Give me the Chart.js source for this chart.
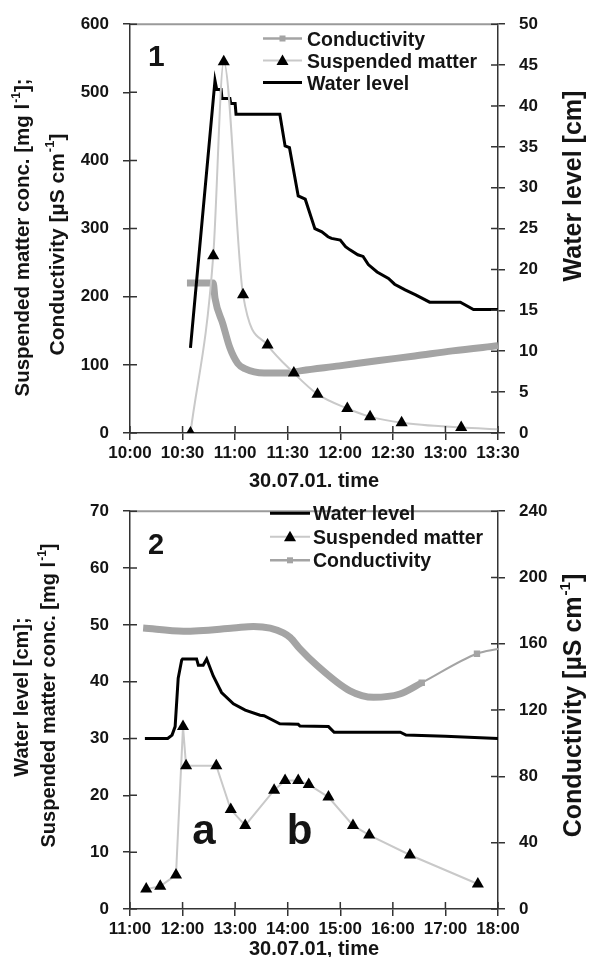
<!DOCTYPE html>
<html lang="en">
<head>
<meta charset="UTF-8">
<title>Water level, suspended matter and conductivity, 30.07.01</title>
<script src="https://cdn.jsdelivr.net/npm/chart.js"></script>
<style>
  body { margin: 0; background: #fff; }
  canvas { display: block; }
</style>
</head>
<body>
<canvas id="chart1" width="592" height="487"></canvas>
<canvas id="chart2" width="592" height="470"></canvas>
<script>
// ---- panel 1: 30.07.01, 10:00 - 13:30 ----
const p1LevelTimes = ['10:34.5','10:48.5','10:49.5','10:52','10:52.5','10:57','10:57.5','11:00','11:00.5','11:25.5',
  '11:28.5','11:31','11:36','11:40','11:45.5','11:49.5','11:53','11:55','12:00','12:03','12:05.5','12:10','12:13',
  '12:16','12:21','12:27.5','12:31','12:37','12:43','12:51','13:08.5','13:16','13:30'];
const p1LevelValues = [10.4,43.1,42.0,42.0,40.9,40.9,40.3,40.3,39.0,39.0,
  35.1,34.9,29.0,28.6,25.0,24.6,24.0,23.8,23.6,22.8,22.4,21.8,21.6,
  20.6,19.7,18.9,18.2,17.5,16.9,16.0,16.0,15.1,15.1];

const p1SuspTimes = ['10:34.5','10:47.5','10:53.5','11:04.5','11:18.5','11:33.5','11:47','12:04','12:17','12:35','13:09','13:30'];
const p1SuspValues = [0,260,545,203,129,88,57,36,24,15,8,5.5];

const p1CondTimes = ['10:32.5','10:47.5','10:48.5','10:53','10:57','11:01.5','11:05.5','11:16.5','11:29.5','11:38',
  '11:59.5','12:21','12:42.5','13:04','13:30'];
const p1CondValues = [220,220,198,160,125,102,94.5,88,88,91.5,98.5,106,113,120.5,128];

const p1LeftTicks = [0,100,200,300,400,500,600];
const p1RightTicks = [0,5,10,15,20,25,30,35,40,45,50];
const p1TimeTicks = ['10:00','10:30','11:00','11:30','12:00','12:30','13:00','13:30'];

// ---- panel 2: 30.07.01, 11:00 - 18:00 ----
const p2LevelTimes = ['11:17','11:43','11:48','11:51.5','11:55','11:59','12:00','12:16','12:18','12:23.5','12:27.5',
  '12:35','12:44.5','12:58','13:11.5','13:28.5','13:33','13:51','14:12','14:14','14:46.5','14:53','16:08.5','16:15',
  '17:00','18:00'];
const p2LevelValues = [30,30,30.6,32.1,40.6,43.8,44.0,44.0,42.9,42.9,44.0,
  41.0,38.1,36.1,35.0,34.1,34.0,32.6,32.5,32.2,32.1,31.1,31.1,30.6,
  30.4,30.0];

const p2SuspTimes = ['11:18.5','11:34.5','11:52.5','12:00.5','12:04','12:38.5','12:55','13:11.5','13:44.5','13:57',
  '14:12','14:24','14:46.5','15:14.5','15:33','16:19.5','17:37'];
const p2SuspValues = [3.5,4.0,6.0,32.1,25.2,25.2,17.5,14.7,20.9,22.6,22.6,21.9,19.7,14.7,13.0,9.5,4.4];

const p2CondTimes = ['11:15','12:01','12:58','13:21','13:40','13:55','14:03','14:14','14:33','15:11','15:38','16:08',
  '16:33','17:36','18:00'];
const p2CondValues = [169.5,167.6,169.5,170.5,169.5,166.6,163.7,156.9,147.1,131.6,127.7,129.7,136.5,154,156.9];

const p2LeftTicks = [0,10,20,30,40,50,60,70];
const p2RightTicks = [0,40,80,120,160,200,240];
const p2TimeTicks = ['11:00','12:00','13:00','14:00','15:00','16:00','17:00','18:00'];

const FONT = "'Liberation Sans', Arial, sans-serif";
const INK = '#141414';
const COND_GREY = '#a4a4a4';
const SUSP_GREY = '#c9c9c9';

function toMin(t) {
  const [h, m] = t.split(':');
  return parseInt(h, 10) * 60 + parseFloat(m);
}
function fmtTime(v) {
  const h = Math.floor(v / 60), m = Math.round(v % 60);
  return String(h).padStart(2, '0') + ':' + String(m).padStart(2, '0');
}
function pts(times, values) {
  return times.map((t, i) => ({ x: toMin(t), y: values[i] }));
}

// text with "-1" superscripts, centred on (x, y), optionally rotated
function drawRich(ctx, parts, x, y, size, rot) {
  const big = `bold ${size}px ${FONT}`;
  const small = `bold ${Math.round(size * 0.6)}px ${FONT}`;
  ctx.save();
  ctx.translate(x, y);
  if (rot) ctx.rotate(rot);
  let w = 0;
  parts.forEach(p => {
    ctx.font = typeof p === 'string' ? big : small;
    w += ctx.measureText(typeof p === 'string' ? p : p.sup).width;
  });
  let cx = -w / 2;
  ctx.fillStyle = INK;
  ctx.textAlign = 'left';
  ctx.textBaseline = 'alphabetic';
  const base = size * 0.36;
  parts.forEach(p => {
    if (typeof p === 'string') {
      ctx.font = big;
      ctx.fillText(p, cx, base);
      cx += ctx.measureText(p).width;
    } else {
      ctx.font = small;
      ctx.fillText(p.sup, cx + 1, base - size * 0.45);
      cx += ctx.measureText(p.sup).width + 1;
    }
  });
  ctx.restore();
}

// inner tick marks, top frame line, axis titles, legend and panel letters
const decor = {
  id: 'decor',
  afterDraw(chart, args, o) {
    const { ctx, chartArea: a, scales } = chart;
    ctx.save();
    ctx.strokeStyle = '#9a9a9a';
    ctx.lineWidth = 2;
    ctx.beginPath(); ctx.moveTo(a.left, a.top); ctx.lineTo(a.right, a.top); ctx.stroke();

    ctx.strokeStyle = '#333';
    ctx.lineWidth = 1.5;
    ctx.beginPath();
    scales.x.ticks.forEach(t => { const p = scales.x.getPixelForValue(t.value); ctx.moveTo(p, a.bottom); ctx.lineTo(p, a.bottom - 7); });
    scales.y.ticks.forEach(t => { const p = scales.y.getPixelForValue(t.value); ctx.moveTo(a.left, p); ctx.lineTo(a.left + 7, p); });
    scales.y1.ticks.forEach(t => { const p = scales.y1.getPixelForValue(t.value); ctx.moveTo(a.right, p); ctx.lineTo(a.right - 7, p); });
    ctx.stroke();

    o.titles.forEach(t => drawRich(ctx, t.parts, t.x, t.y, t.size, t.rot ? -Math.PI / 2 : 0));

    // legend
    const L = o.legend;
    L.items.forEach((it, i) => {
      const y = L.y + i * L.gap;
      ctx.strokeStyle = it.color;
      ctx.lineWidth = it.width;
      ctx.beginPath(); ctx.moveTo(L.x0, y); ctx.lineTo(L.x1, y); ctx.stroke();
      const mx = (L.x0 + L.x1) / 2;
      if (it.marker === 'rect') {
        ctx.fillStyle = it.color;
        ctx.fillRect(mx - 3, y - 3, 6, 6);
      } else if (it.marker === 'triangle') {
        ctx.fillStyle = '#000';
        ctx.beginPath(); ctx.moveTo(mx, y - 6); ctx.lineTo(mx + 6, y + 4.5); ctx.lineTo(mx - 6, y + 4.5); ctx.closePath(); ctx.fill();
      }
      ctx.fillStyle = INK;
      ctx.font = `bold 19.5px ${FONT}`;
      ctx.textAlign = 'left';
      ctx.textBaseline = 'alphabetic';
      ctx.fillText(it.text, L.xt, y + 7);
    });

    o.letters.forEach(l => {
      ctx.font = `bold ${l.size}px ${FONT}`;
      ctx.fillStyle = INK;
      ctx.textAlign = 'left';
      ctx.textBaseline = 'alphabetic';
      const x = l.t ? scales.x.getPixelForValue(toMin(l.t)) : a.left + l.dx;
      const y = l.v !== undefined ? scales.y.getPixelForValue(l.v) : a.top + l.dy;
      ctx.fillText(l.text, x, y);
    });
    ctx.restore();
  }
};

function axisOpts(pos, min, max, ticks, fit, extra) {
  return Object.assign({
    type: 'linear', position: pos, min: min, max: max,
    afterBuildTicks: s => { s.ticks = ticks.map(v => ({ value: v })); },
    afterFit: fit,
    grid: { drawOnChartArea: false, drawTicks: true, tickLength: 7, color: '#333', lineWidth: 1.5 },
    border: { display: true, color: '#333', width: 1.5 },
    ticks: { color: INK, font: { family: FONT, size: 17, weight: 'bold' }, padding: 14 }
  }, extra || {});
}

function makeChart(id, cfg) {
  return new Chart(document.getElementById(id), {
    type: 'line',
    data: { datasets: cfg.datasets },
    options: {
      responsive: false,
      animation: false,
      devicePixelRatio: 1,
      layout: { padding: { top: cfg.top, left: 0, right: 0, bottom: 0 } },
      scales: {
        x: axisOpts('bottom', toMin(cfg.timeTicks[0]), toMin(cfg.timeTicks[cfg.timeTicks.length - 1]),
          cfg.timeTicks.map(toMin), s => { s.height = cfg.xHeight; },
          { ticks: { color: INK, font: { family: FONT, size: 17, weight: 'bold' }, padding: 3, maxRotation: 0,
                     autoSkip: false, callback: v => fmtTime(v) } }),
        y: axisOpts('left', cfg.left[0], cfg.left[cfg.left.length - 1], cfg.left, s => { s.width = 130; }),
        y1: axisOpts('right', cfg.right[0], cfg.right[cfg.right.length - 1], cfg.right, s => { s.width = 94; })
      },
      plugins: {
        legend: { display: false },
        tooltip: { enabled: false },
        decor: cfg.decor
      }
    },
    plugins: [decor]
  });
}

const triangle = {
  pointStyle: 'triangle', pointRadius: 7, pointBackgroundColor: '#000', pointBorderColor: '#000', pointBorderWidth: 0
};

makeChart('chart1', {
  top: 20,
  xHeight: 54,
  timeTicks: p1TimeTicks,
  left: p1LeftTicks,
  right: p1RightTicks,
  datasets: [
    Object.assign({ label: 'Suspended matter', data: pts(p1SuspTimes, p1SuspValues), yAxisID: 'y',
      borderColor: SUSP_GREY, borderWidth: 2, cubicInterpolationMode: 'monotone', order: 1 }, triangle,
      { pointRadius: p1SuspTimes.map((t, i) => i === p1SuspTimes.length - 1 ? 0 : 7) }),
    { label: 'Water level', data: pts(p1LevelTimes, p1LevelValues), yAxisID: 'y1',
      borderColor: '#000', borderWidth: 3, pointRadius: 0, borderJoinStyle: 'miter', order: 2 },
    { label: 'Conductivity', data: pts(p1CondTimes, p1CondValues), yAxisID: 'y',
      borderColor: COND_GREY, borderWidth: 7, pointRadius: 0, cubicInterpolationMode: 'monotone',
      borderJoinStyle: 'round', order: 3 }
  ],
  decor: {
    titles: [
      { parts: ['30.07.01, time'], x: 314, y: 480, size: 20 },
      { parts: ['Suspended matter conc. [mg l', { sup: '-1' }, '];'], x: 22, y: 238, size: 20.5, rot: true },
      { parts: ['Conductivity [µS cm', { sup: '-1' }, ']'], x: 56, y: 245, size: 21, rot: true },
      { parts: ['Water level [cm]'], x: 572, y: 186, size: 25, rot: true }
    ],
    legend: { x0: 263, x1: 302, xt: 307, y: 38.5, gap: 22, items: [
      { text: 'Conductivity', color: COND_GREY, width: 2.5, marker: 'rect' },
      { text: 'Suspended matter', color: SUSP_GREY, width: 2, marker: 'triangle' },
      { text: 'Water level', color: '#000', width: 3 }
    ] },
    letters: [ { text: '1', dx: 18, dy: 42, size: 30 } ]
  }
});

const p2ThickEnd = p2CondTimes.indexOf('16:33');
makeChart('chart2', {
  top: 10.5,
  xHeight: 48,
  timeTicks: p2TimeTicks,
  left: p2LeftTicks,
  right: p2RightTicks,
  datasets: [
    Object.assign({ label: 'Suspended matter', data: pts(p2SuspTimes, p2SuspValues), yAxisID: 'y',
      borderColor: SUSP_GREY, borderWidth: 2, tension: 0, order: 1 }, triangle),
    { label: 'Water level', data: pts(p2LevelTimes, p2LevelValues), yAxisID: 'y',
      borderColor: '#000', borderWidth: 3, pointRadius: 0, order: 2 },
    { label: 'Conductivity', data: pts(p2CondTimes, p2CondValues), yAxisID: 'y1',
      borderColor: COND_GREY, borderWidth: 7, cubicInterpolationMode: 'monotone', borderJoinStyle: 'round',
      segment: { borderWidth: c => c.p0DataIndex < p2ThickEnd ? 7 : 2 },
      pointStyle: 'rect', pointBackgroundColor: COND_GREY, pointBorderWidth: 0,
      pointRadius: p2CondTimes.map((t, i) => (i === p2ThickEnd || i === p2ThickEnd + 1) ? 4.5 : 0), order: 3 }
  ],
  decor: {
    titles: [
      { parts: ['30.07.01, time'], x: 314, y: 461, size: 20 },
      { parts: ['Water level [cm];'], x: 21, y: 210, size: 20, rot: true },
      { parts: ['Suspended matter conc. [mg l', { sup: '-1' }, ']'], x: 48, y: 209, size: 20, rot: true },
      { parts: ['Conductivity [µS cm', { sup: '-1' }, ']'], x: 572, y: 219, size: 25, rot: true }
    ],
    legend: { x0: 270, x1: 310, xt: 313, y: 26.3, gap: 23.5, items: [
      { text: 'Water level', color: '#000', width: 3 },
      { text: 'Suspended matter', color: SUSP_GREY, width: 2, marker: 'triangle' },
      { text: 'Conductivity', color: COND_GREY, width: 2.5, marker: 'rect' }
    ] },
    letters: [
      { text: '2', dx: 18, dy: 43, size: 29 },
      { text: 'a', t: '12:11', v: 11.4, size: 42 },
      { text: 'b', t: '13:59', v: 11.4, size: 42 }
    ]
  }
});
</script>
</body>
</html>
